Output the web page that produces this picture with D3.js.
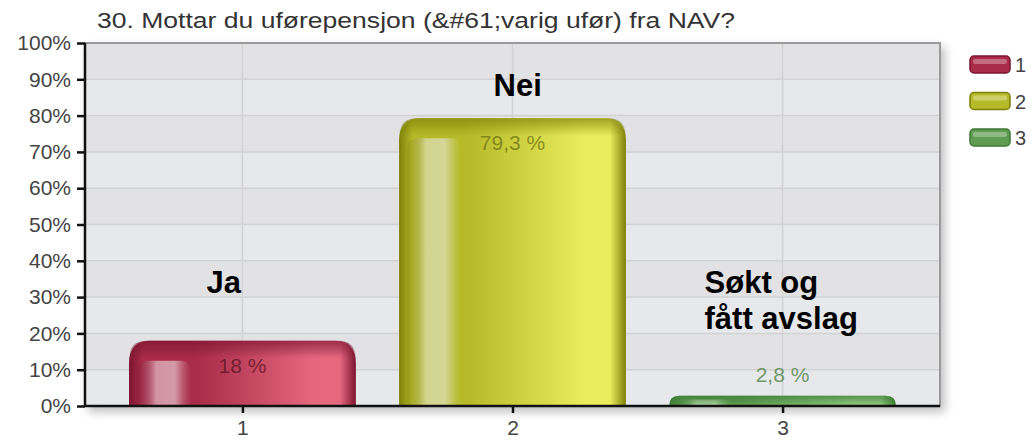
<!DOCTYPE html>
<html>
<head>
<meta charset="utf-8">
<script src="https://cdn.jsdelivr.net/npm/d3@7"></script>
<style>
  body { margin: 0; background: #fff; }
  svg { display: block; font-family: "Liberation Sans", Arial, sans-serif; }
</style>
</head>
<body>
<svg id="chart" width="1031" height="442"></svg>
<script>
// data
let title = "30. Mottar du uførepensjon (&#61;varig ufør) fra NAV?";
let categories = ["1", "2", "3"];
let values = [18, 79.3, 2.8];
let valueLabels = ["18 %", "79,3 %", "2,8 %"];
let yTicks = [0, 10, 20, 30, 40, 50, 60, 70, 80, 90, 100];
let annotations = [["Ja"], ["Nei"], ["Søkt og", "fått avslag"]];

// colour sets per bar: dark edge, mid, light, highlight, label
let palettes = [
    { dark: "#7c1430", mid: "#a92c48", light: "#e6687f", hi: "#d9a6b2", label: "#5a1222" },
    { dark: "#7e8008", mid: "#b6ba28", light: "#eaee5c", hi: "#d8d9a2", label: "#6e7010" },
    { dark: "#3c7a32", mid: "#5f9c52", light: "#98cf88", hi: "#b8d8ae", label: "#5f8f55" }
];

let size = { w: 1031, h: 442 };
let margin = { left: 85, right: 91, top: 43, bottom: 36 };

let svg = d3.select("#chart");
let defs = svg.append("defs");

let x = d3.scalePoint()
    .domain(categories)
    .range([margin.left, size.w - margin.right])
    .padding(0.583);

let y = d3.scaleLinear()
    .domain([0, 100])
    .range([size.h - margin.bottom, margin.top]);

let plotW = size.w - margin.right - margin.left;
let barW = x.step() * 0.84;

// drop shadow for the plot frame
let shadow = defs.append("filter").attr("id", "shadow")
    .attr("x", "-5%").attr("y", "-5%").attr("width", "115%").attr("height", "120%");
shadow.append("feGaussianBlur").attr("in", "SourceAlpha").attr("stdDeviation", 5);
shadow.append("feOffset").attr("dx", 4).attr("dy", 5).attr("result", "b");
shadow.append("feComponentTransfer").append("feFuncA").attr("type", "linear").attr("slope", 0.25);
let merge = shadow.append("feMerge");
merge.append("feMergeNode");
merge.append("feMergeNode").attr("in", "SourceGraphic");

svg.append("rect")
    .attr("x", margin.left)
    .attr("y", margin.top)
    .attr("width", plotW)
    .attr("height", y(0) - y(100))
    .attr("fill", "#e4e6e9")
    .attr("stroke", "#9a9a9a")
    .attr("stroke-width", 2)
    .attr("filter", "url(#shadow)");

// alternating bands
let bandG = svg.append("g");
bandG.selectAll("rect")
    .data(yTicks.slice(0, -1))
    .join("rect")
    .attr("x", margin.left)
    .attr("width", plotW - 1)
    .attr("y", d => y(d + 10))
    .attr("height", d => y(d) - y(d + 10))
    .attr("fill", (d, i) => i % 2 === 0 ? "#e6e8eb" : "#e2e2e4");

// grid
svg.append("g").selectAll("line")
    .data(yTicks.slice(1, -1))
    .join("line")
    .attr("x1", margin.left).attr("x2", size.w - margin.right - 1)
    .attr("y1", d => y(d)).attr("y2", d => y(d))
    .attr("stroke", "#d2d2d2").attr("stroke-width", 1.5);

svg.append("g").selectAll("line")
    .data(categories)
    .join("line")
    .attr("x1", d => x(d)).attr("x2", d => x(d))
    .attr("y1", y(100)).attr("y2", y(0))
    .attr("stroke", "#d2d2d2").attr("stroke-width", 1.5);

// top/right frame on top of bands
svg.append("path")
    .attr("d", `M${margin.left},${y(100)}H${size.w - margin.right}V${y(0)}`)
    .attr("fill", "none").attr("stroke", "#9a9a9a").attr("stroke-width", 2);

// gradients
palettes.forEach((p, i) => {
    let g = defs.append("linearGradient").attr("id", "body" + i)
        .attr("x1", 0).attr("x2", 1).attr("y1", 0).attr("y2", 0);
    [[0, p.dark], [0.06, p.mid], [0.3, p.mid], [0.82, p.light], [0.93, p.light], [1, p.dark]]
        .forEach(s => g.append("stop").attr("offset", s[0]).attr("stop-color", s[1]));

    let h = defs.append("linearGradient").attr("id", "hi" + i)
        .attr("x1", 0).attr("x2", 1).attr("y1", 0).attr("y2", 0);
    [[0, p.dark, 0.2], [0.35, p.hi, 0.85], [0.7, p.hi, 0.9], [1, p.mid, 0.5]]
        .forEach(s => h.append("stop").attr("offset", s[0]).attr("stop-color", s[1]).attr("stop-opacity", s[2]));

    let t = defs.append("linearGradient").attr("id", "top" + i)
        .attr("x1", 0).attr("x2", 0).attr("y1", 0).attr("y2", 1);
    [[0, p.dark, 0.7], [1, p.dark, 0]]
        .forEach(s => t.append("stop").attr("offset", s[0]).attr("stop-color", s[1]).attr("stop-opacity", s[2]));
});

function roundTop(x0, y0, w, h, r) {
    r = Math.min(r, h, w / 2);
    return `M${x0},${y0 + h}V${y0 + r}Q${x0},${y0} ${x0 + r},${y0}H${x0 + w - r}Q${x0 + w},${y0} ${x0 + w},${y0 + r}V${y0 + h}Z`;
}

let barG = svg.selectAll("g.bar")
    .data(values)
    .join("g")
    .classed("bar", true)
    .attr("transform", (d, i) => `translate(${x(categories[i]) - barW / 2},${y(d)})`);

barG.append("path")
    .attr("d", d => roundTop(0, 0, barW, y(0) - y(d), 22))
    .attr("fill", (d, i) => `url(#body${i})`);

// glossy stripe on the left
barG.append("path")
    .attr("d", d => {
        let h = y(0) - y(d);
        let top = Math.min(20, h * 0.35);
        return roundTop(barW * 0.035, top, barW * 0.24, h - top, 12);
    })
    .attr("fill", (d, i) => `url(#hi${i})`);

// darker rim at the top
barG.append("path")
    .attr("d", d => roundTop(0, 0, barW, Math.min(18, y(0) - y(d)), 22))
    .attr("fill", (d, i) => `url(#top${i})`);

// value labels
barG.append("text")
    .attr("x", barW / 2)
    .attr("y", d => (y(0) - y(d)) > 40 ? 32 : -14)
    .attr("text-anchor", "middle")
    .attr("font-size", 21)
    .attr("fill", (d, i) => palettes[i].label)
    .attr("fill-opacity", (d, i) => i === 2 ? 0.9 : 0.75)
    .text((d, i) => valueLabels[i]);

// axes
let yAxis = d3.axisLeft(y)
    .tickValues(yTicks)
    .tickFormat(d => d + "%")
    .tickSize(8)
    .tickPadding(6);

let yG = svg.append("g")
    .attr("transform", `translate(${margin.left},0)`)
    .call(yAxis);
yG.select(".domain").attr("stroke", "#111").attr("stroke-width", 2.5).attr("d", `M0,${y(100)}V${y(0)}`);
yG.selectAll(".tick line").attr("stroke", "#111").attr("stroke-width", 2.5);
yG.selectAll(".tick text").attr("font-size", 21).attr("fill", "#444")
    .attr("font-family", "Liberation Sans, Arial, sans-serif");

let xAxis = d3.axisBottom(x).tickSize(7).tickPadding(7);
let xG = svg.append("g")
    .attr("transform", `translate(0,${y(0)})`)
    .call(xAxis);
xG.select(".domain").attr("stroke", "#111").attr("stroke-width", 2.5)
    .attr("d", `M${margin.left},0H${size.w - margin.right}`);
xG.selectAll(".tick line").attr("stroke", "#111").attr("stroke-width", 2.5);
xG.selectAll(".tick text").attr("font-size", 21).attr("fill", "#444")
    .attr("font-family", "Liberation Sans, Arial, sans-serif");

// title (the source font runs wide, so stretch it to the same length)
svg.append("text")
    .attr("x", 97)
    .attr("y", 28)
    .attr("font-size", 22)
    .attr("fill", "#333")
    .attr("textLength", 638)
    .attr("lengthAdjust", "spacingAndGlyphs")
    .text(title);

// annotations placed beside each bar (dx from category, baseline in %)
let annoPos = [[-36, 31.1], [-19, 85.4], [-78, 31.1]];
annotations.forEach((lines, i) => {
    let t = svg.append("text")
        .attr("x", x(categories[i]) + annoPos[i][0])
        .attr("y", y(annoPos[i][1]))
        .attr("font-size", 31)
        .attr("font-weight", "bold")
        .attr("fill", "#000");
    lines.forEach((l, j) => {
        t.append("tspan")
            .attr("x", x(categories[i]) + annoPos[i][0])
            .attr("dy", j === 0 ? 0 : 36)
            .text(l);
    });
});

// legend
let legendG = svg.selectAll("g.legend")
    .data(categories)
    .join("g")
    .classed("legend", true)
    .attr("transform", (d, i) => `translate(970,${56 + i * 36.5})`);

legendG.append("rect")
    .attr("width", 40).attr("height", 17).attr("rx", 4)
    .attr("fill", (d, i) => palettes[i].mid)
    .attr("stroke", (d, i) => palettes[i].dark)
    .attr("stroke-width", 1.5);
legendG.append("rect")
    .attr("x", 3).attr("y", 3).attr("width", 34).attr("height", 5).attr("rx", 2)
    .attr("fill", "#fff").attr("fill-opacity", 0.3);
legendG.append("text")
    .attr("x", 45).attr("y", 16)
    .attr("font-size", 20).attr("fill", "#444")
    .text(d => d);
</script>
</body>
</html>
